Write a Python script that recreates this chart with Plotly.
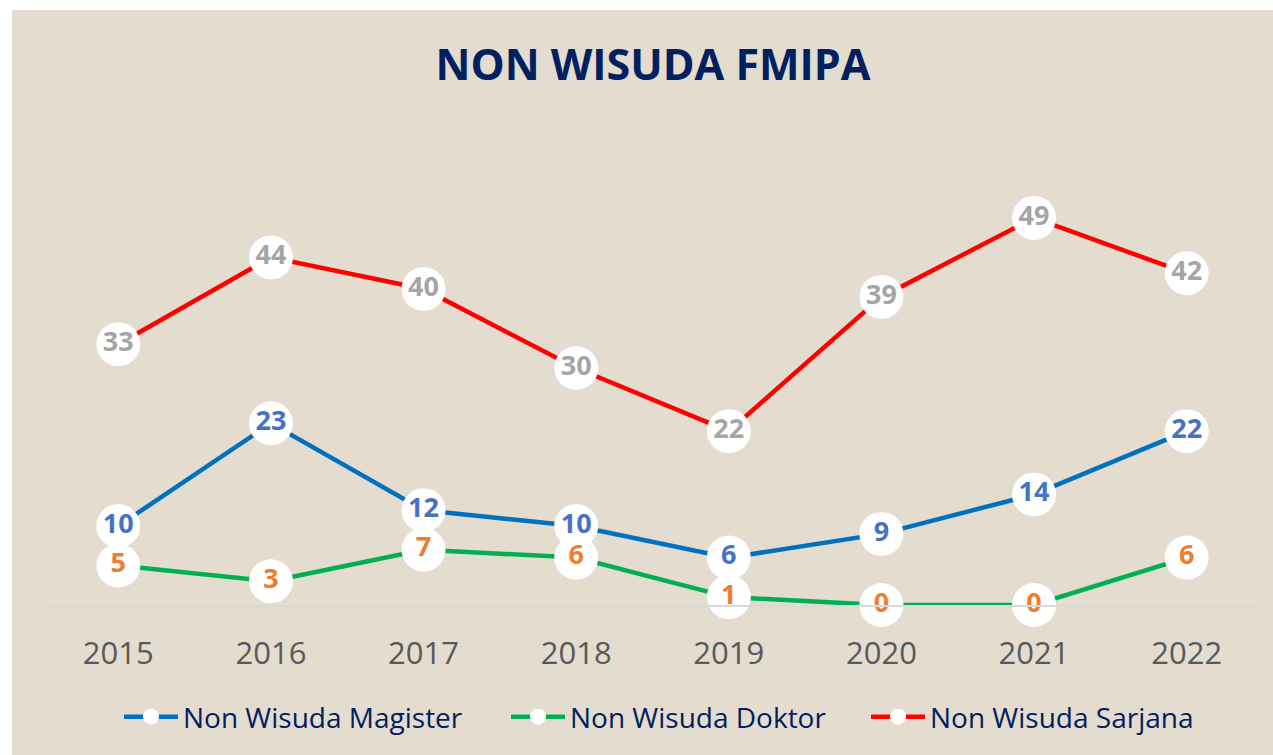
import plotly.graph_objects as go

years = ["2015", "2016", "2017", "2018", "2019", "2020", "2021", "2022"]
magister = [10, 23, 12, 10, 6, 9, 14, 22]
doktor = [5, 3, 7, 6, 1, 0, 0, 6]
sarjana = [33, 44, 40, 30, 22, 39, 49, 42]

series = [
    ("Non Wisuda Magister", magister, "#0070c0", "#4472c4", 318),
    ("Non Wisuda Doktor", doktor, "#00b050", "#ed7d31", 291),
    ("Non Wisuda Sarjana", sarjana, "#ff0000", "#a5a5a5", 290),
]

FONT = "Open Sans"
BG = "#e3dccf"

fig = go.Figure()
for name, vals, lc, tc, lw in series:
    fig.add_trace(go.Scatter(
        x=years, y=vals, name=name,
        mode="lines+markers+text",
        line=dict(color=lc, width=4.5),
        marker=dict(size=44, color="white", line=dict(width=0)),
        text=[str(v) for v in vals],
        textposition="middle center",
        textfont=dict(family=FONT, size=27, color=tc, weight="bold"),
        cliponaxis=False,
        legendwidth=lw,
    ))

L, R, T, B = 42, 10, 131, 150
W, H = 1273, 755
pw = W - L - R
ph = H - T - B

def px_x(p):
    return (p - L) / pw

def px_y(p):
    return (H - B - p) / ph

fig.update_layout(
    width=W, height=H,
    margin=dict(l=L, r=R, t=T, b=B, pad=0),
    paper_bgcolor=BG, plot_bgcolor=BG,
    title=dict(text="<b>NON WISUDA FMIPA</b>", x=653 / W, xanchor="center",
               y=1 - 65 / H, yanchor="middle",
               font=dict(family=FONT, size=43, color="#002060")),
    showlegend=True,
    legend=dict(orientation="h", x=px_x(119), xanchor="left",
                y=px_y(717), yanchor="middle",
                font=dict(family=FONT, size=28, color="#002060"),
                bgcolor="rgba(0,0,0,0)", itemwidth=54,
                traceorder="normal"),
    xaxis=dict(type="category", range=[-0.5, 7.5], showgrid=False, zeroline=False,
               showline=True, linecolor="#d9d9d9", linewidth=1.5,
               tickfont=dict(family=FONT, size=31, color="#595959"),
               ticks="", ticklabelstandoff=20),
    yaxis=dict(range=[0, 60], visible=False, showgrid=False, zeroline=False),
    shapes=[
        dict(type="rect", xref="paper", yref="paper",
             x0=px_x(0), x1=px_x(W), y0=px_y(10), y1=px_y(0),
             fillcolor="white", line=dict(width=0), layer="below"),
        dict(type="rect", xref="paper", yref="paper",
             x0=px_x(0), x1=px_x(12), y0=px_y(H), y1=px_y(0),
             fillcolor="white", line=dict(width=0), layer="below"),
    ],
)

fig.write_html("out.html", config={"displayModeBar": False},
               post_script="document.body.style.margin='0';")
